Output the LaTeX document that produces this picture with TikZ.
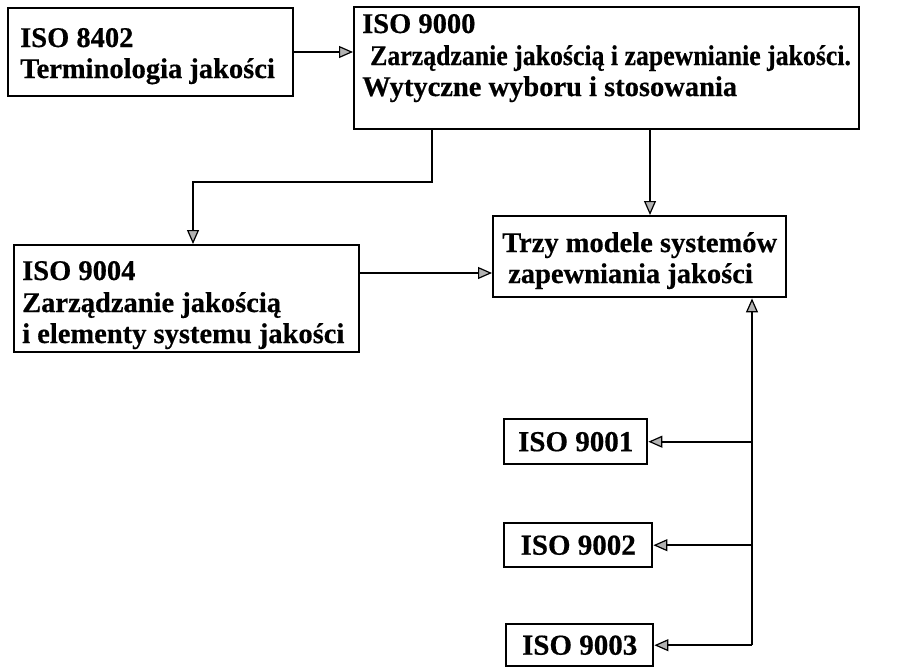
\documentclass[tikz,border=0pt]{standalone}
\usepackage{fontspec}
\usepackage{graphicx}
\setmainfont[BoldFeatures={FakeBold=0.5}]{Liberation Serif}
\usetikzlibrary{arrows.meta}
\newcommand{\bfnt}{\fontsize{28.5}{31}\selectfont\bfseries}
\begin{document}
\begin{tikzpicture}[x=1pt,y=-1pt,
  box/.style={draw, line width=2.4pt, anchor=north west, inner sep=0pt},
  txt/.style={anchor=base west, inner sep=0pt, font=\bfnt},
  stxt/.style={anchor=center, inner sep=0pt, font=\fontsize{29}{31}\selectfont\bfseries},
  arr/.style={line width=2.3pt, -{Triangle[length=14pt,width=12pt,fill=gray!60,line width=1.2pt]}}]
\useasboundingbox (0,0) rectangle (902,667);
\fill[white] (0,0) rectangle (902,667);

% boxes
\node[box, minimum width=285pt, minimum height=88pt] (b8402) at (7,7) {};
\node[box, minimum width=505pt, minimum height=122pt] (b9000) at (353,6) {};
\node[box, minimum width=345pt, minimum height=107pt] (b9004) at (13,244) {};
\node[box, minimum width=293pt, minimum height=81pt] (trzy) at (492,215) {};
\node[box, minimum width=143pt, minimum height=45pt] (b9001) at (503,418) {};
\node[box, minimum width=148pt, minimum height=44pt] (b9002) at (503,522) {};
\node[box, minimum width=147pt, minimum height=42pt] (b9003) at (505,623) {};

% texts
\node[txt] (t8402a) at (20,47) {ISO 8402};
\node[txt] (t8402b) at (20,78) {Terminologia jakości};
\node[txt] (t9000a) at (362,33) {ISO 9000};
\node[txt] (t9000b) at (370,65) {\scalebox{0.905}[1]{Zarządzanie jakością i zapewnianie jakości.}};
\node[txt] (t9000c) at (362,96) {Wytyczne wyboru i stosowania};
\node[txt] (t9004a) at (22,280) {ISO 9004};
\node[txt] (t9004b) at (22,312) {Zarządzanie jakością};
\node[txt] (t9004c) at (22,343) {i elementy systemu jakości};
\node[txt] (ttrzya) at (502,252) {Trzy modele systemów};
\node[txt] (ttrzyb) at (508,283) {zapewniania jakości};
\node[stxt] (t9001) at (b9001.center) {ISO 9001};
\node[stxt] (t9002) at (b9002.center) {ISO 9002};
\node[stxt] (t9003) at (b9003.center) {ISO 9003};

% connectors
\coordinate (c1) at (432,182);
\coordinate (c2) at (193,182);
\coordinate (c3) at (650,127);
\coordinate (c4) at (358,273);
\coordinate (bus) at (752,0);

\draw[arr] (b8402.east |- 0,52) -- (b9000.west |- 0,52);
\draw[arr] (b9000.south -| c1) -- (c1) -- (c2) -- (c2 |- b9004.north);
\draw[arr] (b9000.south -| c3) -- (c3 |- trzy.north);
\draw[arr] (b9004.east |- c4) -- (c4 -| trzy.west);
\draw[arr] (bus |- b9003.east) -- (bus |- trzy.south);
\draw[arr] (bus |- b9001.east) -- (b9001.east);
\draw[arr] (bus |- b9002.east) -- (b9002.east);
\draw[arr] (bus |- b9003.east) -- (b9003.east);
\end{tikzpicture}
\end{document}
